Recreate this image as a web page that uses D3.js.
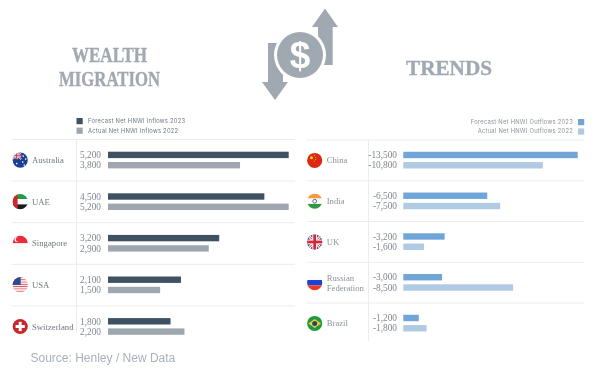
<!DOCTYPE html>
<html>
<head>
<meta charset="utf-8">
<script src="https://cdn.jsdelivr.net/npm/d3@7"></script>
<style>
	html, body {margin: 0; padding: 0; background: #fff;}
	svg {display: block; filter: blur(.3px);}
	.num, .name {font-family: "Liberation Serif", serif;}
	.legend {font-family: Inter, sans-serif; font-size: 5.8px; letter-spacing: .25px;}
</style>
</head>
<body>
<svg id="chart" width="600" height="375"></svg>
<script>
const inCountries = ["Australia", "UAE", "Singapore", "USA", "Switzerland"];
const inflows2023 = [5200, 4500, 3200, 2100, 1800];
const inflows2022 = [3800, 5200, 2900, 1500, 2200];
const outCountries = ["China", "India", "UK", "Russian Federation", "Brazil"];
const outflows2023 = [-13500, -6500, -3200, -3000, -1200];
const outflows2022 = [-10800, -7500, -1600, -8500, -1800];
const inLegend = ["Forecast Net HNWI Inflows 2023", "Actual Net HNWI Inflows 2022"];
const outLegend = ["Forecast Net HNWI Outflows 2023", "Actual Net HNWI Outflows 2022"];

const svg = d3.select("#chart");
const fmt = d3.format(",");

// flags, drawn in a 15px wide box around 0,0
const flags = {
	Australia(g) {
		rect(g, -8, -8, 16, 16, "#1c3f94");
		line(g, -8, -8, 1, -1, "#fff", 1.6);
		line(g, 1, -8, -8, -1, "#fff", 1.6);
		line(g, -8, -8, 1, -1, "#d8213a", .7);
		line(g, 1, -8, -8, -1, "#d8213a", .7);
		rect(g, -8, -5.4, 9, 2, "#fff");
		rect(g, -4.5, -8, 2, 7, "#fff");
		rect(g, -8, -4.9, 9, 1, "#d8213a");
		rect(g, -4, -8, 1, 7, "#d8213a");
		[[-3.5, 3.5], [3, -4], [5.5, -1], [2.5, 2], [4, 5]].forEach(s => dot(g, s[0], s[1], .8, "#fff"));
	},
	UAE(g) {
		rect(g, -8, -8, 16, 5.3, "#1f9d45");
		rect(g, -8, -2.7, 16, 5.4, "#fff");
		rect(g, -8, 2.7, 16, 5.3, "#1b1b1b");
		rect(g, -8, -8, 5.4, 16, "#d3262c");
	},
	Singapore(g) {
		rect(g, -8, -8, 16, 8, "#ea2b3c");
		rect(g, -8, 0, 16, 8, "#fbfafa");
		dot(g, -3, -3.8, 2.6, "#fff");
		dot(g, -2, -3.8, 2.4, "#ea2b3c");
	},
	USA(g) {
		d3.range(7).forEach(i => rect(g, -8, -8 + i * 16 / 7, 16, 8 / 7, "#d94a57"));
		d3.range(7).forEach(i => rect(g, -8, -8 + (i + .5) * 16 / 7, 16, 8 / 7, "#f6f1f1"));
		rect(g, -8, -8, 8.5, 8, "#2c4a8d");
	},
	Switzerland(g) {
		rect(g, -8, -8, 16, 16, "#c9272d");
		rect(g, -4.6, -1.5, 9.2, 3, "#fff");
		rect(g, -1.5, -4.6, 3, 9.2, "#fff");
	},
	China(g) {
		rect(g, -8, -8, 16, 16, "#dc2a12");
		dot(g, -3.2, -2.8, 1.5, "#f8d12c");
		[[-.4, -5], [1, -3.2], [1, -1], [-.4, .6]].forEach(s => dot(g, s[0], s[1], .5, "#f8d12c"));
	},
	India(g) {
		rect(g, -8, -8, 16, 5.3, "#f7983a");
		rect(g, -8, -2.7, 16, 5.4, "#fff");
		rect(g, -8, 2.7, 16, 5.3, "#2f9a3b");
		g.append("circle").attr("r", 1.9).attr("fill", "none").attr("stroke", "#31408c").attr("stroke-width", .8);
	},
	UK(g) {
		rect(g, -8, -8, 16, 16, "#27397f");
		line(g, -8, -8, 8, 8, "#fff", 2.8);
		line(g, 8, -8, -8, 8, "#fff", 2.8);
		line(g, -8, -8, 8, 8, "#d3283a", 1);
		line(g, 8, -8, -8, 8, "#d3283a", 1);
		rect(g, -8, -2.4, 16, 4.8, "#fff");
		rect(g, -2.4, -8, 4.8, 16, "#fff");
		rect(g, -8, -1.4, 16, 2.8, "#d3283a");
		rect(g, -1.4, -8, 2.8, 16, "#d3283a");
	},
	"Russian Federation"(g) {
		rect(g, -8, -8, 16, 5.3, "#fbfbfb");
		rect(g, -8, -2.7, 16, 5.4, "#1f3fd6");
		rect(g, -8, 2.7, 16, 5.3, "#ee3a1c");
	},
	Brazil(g) {
		rect(g, -8, -8, 16, 16, "#1c9a3f");
		g.append("path").attr("d", "M-6.4,0L0,-4.6L6.4,0L0,4.6Z").attr("fill", "#f2cf2a");
		dot(g, 0, 0, 2.5, "#2a3f87");
	}
};

function rect(g, x, y, w, h, fill) {
	g.append("rect").attr("x", x).attr("y", y).attr("width", w).attr("height", h).attr("fill", fill);
}
function line(g, x1, y1, x2, y2, stroke, sw) {
	g.append("line").attr("x1", x1).attr("y1", y1).attr("x2", x2).attr("y2", y2).attr("stroke", stroke).attr("stroke-width", sw);
}
function dot(g, x, y, r, fill) {
	g.append("circle").attr("cx", x).attr("cy", y).attr("r", r).attr("fill", fill);
}

const defs = svg.append("defs");
defs.append("clipPath").attr("id", "flagClip").append("circle").attr("r", 7.6);

function panel(cfg) {
	const y = d3.scaleBand().domain(cfg.countries).range([cfg.top, cfg.top + cfg.step * 5]);
	const x = d3.scaleLinear().domain([0, cfg.max]).range([cfg.barX, cfg.barEnd]);
	const g = svg.append("g");

	// row rules
	g.selectAll(".rule").
		data(d3.range(5)).
		enter().append("line").
		attr("x1", cfg.ruleX[0]).
		attr("x2", cfg.ruleX[1]).
		attr("y1", i => cfg.top + i * cfg.step + .5).
		attr("y2", i => cfg.top + i * cfg.step + .5).
		attr("stroke", "#ececec");
	g.append("line").
		attr("x1", cfg.axisX).attr("x2", cfg.axisX).
		attr("y1", cfg.top).attr("y2", cfg.axisEnd).
		attr("stroke", "#ececec");

	cfg.countries.forEach((c, i) => {
		const cy = y(c) + cfg.step / 2;
		const flag = g.append("g").
			attr("transform", "translate(" + cfg.flagX + "," + (cy + cfg.flagDy) + ")").
			attr("clip-path", "url(#flagClip)");
		flags[c](flag);

		const words = c === "Russian Federation" ? ["Russian", "Federation"] : [c];
		words.forEach((w, k) => {
			g.append("text").
				attr("class", "name").
				attr("x", cfg.labelX).
				attr("y", cy + cfg.flagDy + 3 + (k - (words.length - 1) / 2) * 10.4).
				attr("font-size", 8.7).
				attr("fill", cfg.nameColor).
				text(w);
		});

		[cfg.first[i], cfg.second[i]].forEach((v, k) => {
			const by = cy + cfg.barDy + k * 10.3;
			g.append("rect").
				attr("x", x(0)).
				attr("y", by - 3.2).
				attr("width", x(Math.abs(v)) - x(0)).
				attr("height", 6.4).
				attr("fill", cfg.colors[k]);
			g.append("text").
				attr("class", "num").
				attr("x", cfg.numX).
				attr("y", by + 3.2).
				attr("text-anchor", "end").
				attr("font-size", 9.3).
				attr("fill", "#7f8790").
				text(fmt(v).replace("\u2212", "-"));
		});
	});
}

panel({
	countries: inCountries, first: inflows2023, second: inflows2022,
	colors: ["#3f5263", "#9ea7b0"], nameColor: "#6f7780",
	top: 139, step: 41.6, max: 5200, barX: 108, barEnd: 288.7,
	ruleX: [12, 295], axisX: 76.5, axisEnd: 333,
	flagX: 20.2, flagDy: 0.3, labelX: 32, numX: 101, barDy: -4.9
});
panel({
	countries: outCountries, first: outflows2023, second: outflows2022,
	colors: ["#6fa5d7", "#b0cbe1"], nameColor: "#8d949b",
	top: 139.5, step: 40.75, max: 13500, barX: 403.3, barEnd: 577.7,
	ruleX: [307, 584], axisX: 368.5, axisEnd: 341,
	flagX: 314.7, flagDy: .6, labelX: 326.7, numX: 397, barDy: -4.9
});

// legends
inLegend.forEach((t, i) => {
	svg.append("rect").attr("x", 76.5).attr("y", 118 + i * 9.6).attr("width", 6.2).attr("height", 6.2).
		attr("fill", ["#3f5263", "#9ea7b0"][i]);
	svg.append("text").attr("class", "legend").attr("x", 88).attr("y", 123.2 + i * 9.6).attr("fill", "#6d7781").text(t);
});
outLegend.forEach((t, i) => {
	svg.append("rect").attr("x", 578).attr("y", 119 + i * 9.4).attr("width", 6.2).attr("height", 6.2).
		attr("fill", ["#6fa5d7", "#b0cbe1"][i]);
	svg.append("text").attr("class", "legend").attr("x", 573).attr("y", 124 + i * 9.4).
		attr("text-anchor", "end").attr("fill", "#8d949b").text(t);
});

// titles: text, centre x, baseline, font size, width
const titles = [["WEALTH", 109.5, 62, 20, 75], ["MIGRATION", 109.5, 86, 20, 101], ["TRENDS", 449, 75, 22, 86]];
svg.selectAll(".title").
	data(titles).
	enter().append("text").
	attr("class", "title").
	attr("x", d => d[1]).
	attr("y", d => d[2]).
	attr("text-anchor", "middle").
	attr("font-family", "Liberation Serif, serif").
	attr("font-weight", 700).
	attr("font-size", d => d[3]).
	attr("textLength", d => d[4]).
	attr("lengthAdjust", "spacingAndGlyphs").
	attr("fill", "#a0a8b2").
	attr("stroke", "#a0a8b2").
	attr("stroke-width", .35).
	text(d => d[0]);

// money icon
const icon = svg.append("g").attr("fill", "#a0a8b2");
icon.append("path").attr("d", "M268,43H283V82H288L275,100L262,82H268Z");
icon.append("path").attr("d", "M318,65V27H312L325,8.5L338,27H332.7V65Z");
icon.append("circle").attr("cx", 300).attr("cy", 55).attr("r", 26).attr("fill", "#fff");
icon.append("circle").attr("cx", 300).attr("cy", 55).attr("r", 23);
icon.append("text").attr("x", 300).attr("y", 67.5).attr("text-anchor", "middle").
	attr("font-family", "Liberation Sans, sans-serif").attr("font-weight", 700).attr("font-size", 37).
	attr("fill", "#fff").text("$");

svg.append("text").
	attr("x", 30.5).
	attr("y", 361.5).
	attr("font-family", "Liberation Sans, sans-serif").
	attr("font-size", 12).
	attr("fill", "#a9b0ba").
	text("Source: Henley / New Data");
</script>
</body>
</html>
